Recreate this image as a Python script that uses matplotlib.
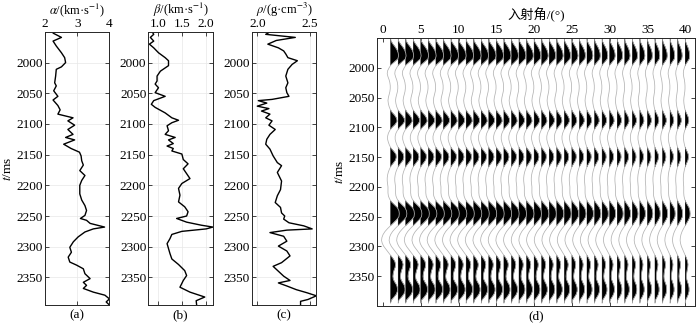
import matplotlib
matplotlib.use("Agg")
import matplotlib.pyplot as plt
import numpy as np

# well logs (time in ms)
alpha_t = [1950, 1952, 1959, 1965, 1973, 1984, 1992, 2000, 2007, 2011,
           2022, 2033, 2038, 2046, 2055, 2061, 2070, 2077, 2084, 2090,
           2095, 2102, 2109, 2117, 2122, 2126, 2133, 2140, 2146, 2152,
           2160, 2167, 2176, 2184, 2192, 2200, 2214, 2224, 2233, 2241,
           2249, 2254, 2257, 2262, 2268, 2271, 2276, 2284, 2292, 2301,
           2309, 2317, 2325, 2330, 2336, 2344, 2352, 2358, 2363, 2368,
           2374, 2379, 2385, 2390, 2395]
alpha = [2.25, 2.25, 2.51, 2.25, 2.35, 2.51, 2.61, 2.64, 2.51, 2.35,
         2.33, 2.30, 2.35, 2.27, 2.40, 2.25, 2.40, 2.47, 2.40, 2.87,
         2.71, 2.92, 2.71, 2.87, 2.64, 2.92, 2.58, 2.81, 3.07, 3.12,
         3.14, 3.19, 3.08, 3.24, 3.14, 3.08, 3.08, 3.14, 3.24, 3.29,
         3.24, 3.10, 3.29, 3.40, 3.85, 3.50, 3.24, 3.03, 2.88, 2.77,
         2.82, 2.72, 2.77, 2.98, 3.19, 3.24, 3.40, 3.19, 3.29, 3.19,
         3.50, 3.86, 4.00, 3.90, 4.00]

beta_t = [1950, 1954, 1959, 1965, 1970, 1976, 1984, 1992, 1997, 2005,
          2014, 2022, 2030, 2035, 2041, 2049, 2055, 2062, 2068, 2073,
          2082, 2090, 2094, 2098, 2103, 2111, 2117, 2122, 2126, 2132,
          2136, 2140, 2144, 2149, 2158, 2165, 2173, 2181, 2189, 2197,
          2205, 2216, 2227, 2235, 2243, 2250, 2254, 2260, 2265, 2268,
          2271, 2275, 2280, 2287, 2295, 2303, 2311, 2320, 2329, 2339,
          2347, 2355, 2366, 2374, 2382, 2388, 2395]
beta = [0.88, 0.91, 0.84, 0.91, 0.82, 0.91, 1.01, 1.15, 1.22, 1.22,
        1.05, 0.98, 0.98, 0.94, 1.01, 0.94, 1.15, 0.91, 0.86, 0.94,
        1.15, 1.29, 1.43, 1.29, 1.19, 1.22, 1.15, 1.36, 1.22, 1.32,
        1.19, 1.32, 1.29, 1.50, 1.53, 1.63, 1.53, 1.60, 1.67, 1.50,
        1.43, 1.46, 1.43, 1.56, 1.63, 1.60, 1.39, 1.60, 1.91, 2.15,
        2.01, 1.50, 1.29, 1.25, 1.19, 1.22, 1.25, 1.29, 1.43, 1.56,
        1.60, 1.53, 1.46, 1.67, 1.98, 1.80, 1.81]

rho_t = [1950, 1954, 1959, 1964, 1970, 1976, 1981, 1986, 1992, 1997,
         2003, 2011, 2022, 2033, 2041, 2049, 2055, 2060, 2062, 2066,
         2071, 2075, 2079, 2084, 2090, 2095, 2102, 2109, 2117, 2125,
         2133, 2141, 2152, 2163, 2168, 2179, 2193, 2207, 2217, 2228,
         2236, 2245, 2250, 2255, 2261, 2266, 2271, 2273, 2277, 2283,
         2291, 2299, 2307, 2315, 2326, 2332, 2340, 2348, 2355, 2359,
         2364, 2370, 2375, 2380, 2386, 2389, 2395]
rho = [2.12, 2.08, 2.36, 2.18, 2.10, 2.20, 2.25, 2.27, 2.29, 2.38,
       2.33, 2.29, 2.27, 2.29, 2.27, 2.28, 2.30, 2.14, 2.01, 2.09,
       2.00, 2.11, 2.04, 2.12, 2.08, 2.14, 2.11, 2.17, 2.12, 2.09,
       2.08, 2.12, 2.15, 2.19, 2.23, 2.19, 2.23, 2.22, 2.19, 2.17,
       2.22, 2.23, 2.26, 2.25, 2.30, 2.44, 2.52, 2.28, 2.12, 2.25,
       2.28, 2.20, 2.28, 2.31, 2.23, 2.15, 2.20, 2.25, 2.31, 2.20,
       2.28, 2.37, 2.47, 2.56, 2.48, 2.41, 2.41]

# synthetic gather: near-angle trace (5 ms samples) and gain per angle
trace_t = list(range(1950, 2400, 5))
trace = [0.0, 0.05, 0.3, 0.6, 0.85, 1.0, 1.05, 0.95, 0.5, 0.05,
         -0.2, -0.4, -0.45, -0.35, -0.2, -0.1, -0.05, -0.05, -0.1, -0.2,
         -0.3, -0.35, -0.3, -0.2, -0.05, 0.2, 0.55, 0.8, 0.85, 0.6,
         0.2, -0.1, -0.3, -0.4, -0.4, -0.3, -0.15, 0.05, 0.4, 0.7,
         0.75, 0.65, 0.35, 0.05, -0.15, -0.3, -0.4, -0.45, -0.45, -0.4,
         -0.35, -0.35, -0.35, -0.3, -0.15, 0.1, 0.5, 0.9, 1.1, 1.15,
         1.1, 0.8, 0.4, 0.0, -0.4, -0.75, -1.0, -1.15, -1.2, -1.1,
         -0.9, -0.6, -0.3, 0.0, 0.3, 0.55, 0.65, 0.6, 0.45, 0.35,
         0.3, 0.35, 0.55, 0.8, 0.9, 0.9, 0.75, 0.45, 0.1, 0.0]
angles = list(range(1, 41))
gains = [1.0, 1.0, 1.0, 0.99, 0.98, 0.98, 0.97, 0.96, 0.95, 0.95,
         0.94, 0.93, 0.92, 0.91, 0.9, 0.89, 0.88, 0.86, 0.85, 0.84,
         0.82, 0.81, 0.8, 0.78, 0.77, 0.75, 0.74, 0.72, 0.71, 0.69,
         0.68, 0.66, 0.65, 0.63, 0.62, 0.6, 0.59, 0.58, 0.57, 0.56]

plt.rcParams["font.family"] = ["Liberation Serif", "Noto Sans CJK SC"]
plt.rcParams["mathtext.fontset"] = "stix"
plt.rcParams["font.size"] = 9.5

FRAME = "#262626"
yticks = list(range(2000, 2400, 50))


def style(ax, ylim):
    ax.xaxis.set_ticks_position("both")
    ax.yaxis.set_ticks_position("both")
    ax.tick_params(direction="in", length=3, width=0.6, color=FRAME,
                   labeltop=True, labelbottom=False, pad=1.5)
    for s in ax.spines.values():
        s.set_color(FRAME)
        s.set_linewidth(0.7)
    ax.set_yticks(yticks)
    ax.set_ylim(ylim[1], ylim[0])


fig = plt.figure(figsize=(7, 3.24), dpi=100)
H = 0.843
B = 0.0586
W = 0.092
logs = [
    (0.0643, alpha_t, alpha, (2, 4), [2, 3, 4], ["2", "3", "4"],
     r"$\alpha$/(km·s$^{-1}$)", "(a)"),
    (0.2121, beta_t, beta, (0.8, 2.15), [1.0, 1.5, 2.0], ["1.0", "1.5", "2.0"],
     r"$\beta$/(km·s$^{-1}$)", "(b)"),
    (0.36, rho_t, rho, (1.95, 2.56), [2.0, 2.5], ["2.0", "2.5"],
     r"$\rho$/(g·cm$^{-3}$)", "(c)"),
]
for i, (left, t, v, xl, xt, xtl, lab, cap) in enumerate(logs):
    ax = fig.add_axes([left, B, W, H])
    ax.grid(True, color="#e8e8e8", lw=0.5)
    ax.set_axisbelow(True)
    ax.plot(v, t, color="k", lw=1.0)
    ax.set_xlim(*xl)
    ax.set_xticks(xt)
    ax.set_xticklabels(xtl)
    style(ax, (1950, 2395))
    fig.text(left + W / 2, 0.942, lab, ha="center", va="bottom", fontsize=9)
    if i == 0:
        ax.set_ylabel(r"$t$/ms", labelpad=2)
    ax.text(0.5, -0.015, cap, transform=ax.transAxes, ha="center", va="top")

# gather panel
DL, DW = 0.5386, 0.4543
ax = fig.add_axes([DL, 0.0556, DW, 0.827])
tt = np.array(trace_t)
tr = np.array(trace)
for a, g in zip(angles, gains):
    x = a + tr * g
    ax.plot(x, tt, color="#b3b3b3", lw=0.55)
    ax.fill_betweenx(tt, a, x, where=x > a, interpolate=True,
                     color="k", lw=0.3)
ax.set_xlim(-0.8, 41.3)
ax.set_xticks(list(range(0, 41, 5)))
style(ax, (1950, 2400))
fig.text(DL + DW / 2, 0.93, "入射角/(°)", ha="center", va="bottom", fontsize=9.5)
ax.set_ylabel(r"$t$/ms", labelpad=2)
ax.text(0.5, -0.015, "(d)", transform=ax.transAxes, ha="center", va="top")

fig.savefig("out.png", dpi=100)
